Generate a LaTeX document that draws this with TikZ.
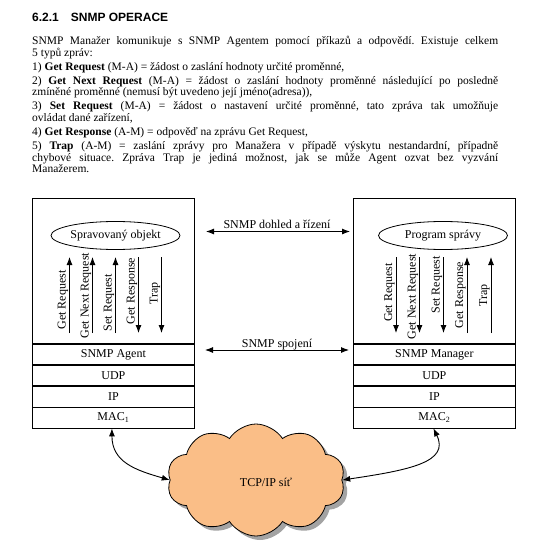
\documentclass[tikz,border=0pt]{standalone}
\usepackage{fontspec}
\setmainfont{Liberation Serif}
\newfontfamily\headfont{Liberation Sans}
\usetikzlibrary{shapes.geometric,shapes.symbols,arrows.meta,shadows}
\definecolor{cloudfill}{RGB}{250,190,135}
\frenchspacing
\tikzset{
  bodyline/.style={anchor=base west, inner sep=0pt, font=\fontsize{11.5}{13}\selectfont},
  box/.style={draw, line width=0.8pt, inner sep=0pt},
  row/.style={box, minimum width=162pt, minimum height=20.3pt, font=\fontsize{12}{14}\selectfont},
  obj/.style={draw, ellipse, line width=0.8pt, minimum width=129pt, minimum height=28pt, inner sep=0pt, font=\fontsize{12}{14}\selectfont},
  arr/.style={line width=0.9pt, -{Latex[length=8pt,width=6pt]}},
  darr/.style={line width=0.9pt, {Latex[length=8pt,width=6pt]}-{Latex[length=8pt,width=6pt]}},
  vlab/.style={rotate=90, anchor=base, inner sep=0pt, font=\fontsize{12}{14}\selectfont},
  hlab/.style={anchor=base, inner sep=0pt, font=\fontsize{12}{14}\selectfont},
}
\newcommand{\jl}[1]{\makebox[466pt][s]{#1}}
\begin{document}
\begin{tikzpicture}[x=1pt,y=-1pt]
\useasboundingbox (0,0) rectangle (556,559);
% heading and text
\node[anchor=base west, inner sep=0pt, font=\headfont\bfseries\fontsize{12}{14}\selectfont] (head) at (32,22) {6.2.1\hspace{12pt}SNMP OPERACE};
\node[bodyline] (t1) at (32,45) {\jl{SNMP Manažer komunikuje s SNMP Agentem pomocí příkazů a odpovědí. Existuje celkem}};
\node[bodyline] (t2) at (32,56.5) {5 typů zpráv:};
\node[bodyline] (t3) at (32,70.5) {1) \textbf{Get Request} (M-A) = žádost o zaslání hodnoty určité proměnné,};
\node[bodyline] (t4) at (32,84.5) {\jl{2) \textbf{Get Next Request} (M-A) = žádost o zaslání hodnoty proměnné následující po posledně}};
\node[bodyline] (t5) at (32,96) {zmíněné proměnné (nemusí být uvedeno její jméno(adresa)),};
\node[bodyline] (t6) at (32,110) {\jl{3) \textbf{Set Request} (M-A) = žádost o nastavení určité proměnné, tato zpráva tak umožňuje}};
\node[bodyline] (t7) at (32,121.5) {ovládat dané zařízení,};
\node[bodyline] (t8) at (32,135.5) {4) \textbf{Get Response} (A-M) = odpověď na zprávu Get Request,};
\node[bodyline] (t9) at (32,149.5) {\jl{5) \textbf{Trap} (A-M) = zaslání zprávy pro Manažera v případě výskytu nestandardní, případně}};
\node[bodyline] (t10) at (32,161) {\jl{chybové situace. Zpráva Trap je jediná možnost, jak se může Agent ozvat bez vyzvání}};
\node[bodyline] (t11) at (32,172.5) {Manažerem.};

% agent stack
\node[row, anchor=north west] (agent) at (32,344) {SNMP Agent};
\node[row, anchor=north] (udp1) at (agent.south) {UDP};
\node[row, anchor=north] (ip1) at (udp1.south) {IP};
\node[row, anchor=north] (mac1) at (ip1.south) {MAC\textsubscript{1}};
\node[box, minimum width=162pt, minimum height=145pt, anchor=south west] (abox) at (agent.north west) {};
\node[obj] (sobj) at (115.5,235.5) {Spravovaný objekt};

% manager stack
\node[row, anchor=north west] (manager) at (353,344) {SNMP Manager};
\node[row, anchor=north] (udp2) at (manager.south) {UDP};
\node[row, anchor=north] (ip2) at (udp2.south) {IP};
\node[row, anchor=north] (mac2) at (ip2.south) {MAC\textsubscript{2}};
\node[box, minimum width=162pt, minimum height=145pt, anchor=south west] (mbox) at (manager.north west) {};
\node[obj] (prog) at (443,235.5) {Program správy};

% left vertical arrows
\foreach \i/\x in {1/69.5,2/92.5,3/115.5,4/138.5,5/161.5}{
  \coordinate (la\i t) at (\x,257);
  \coordinate (la\i b) at (\x,333);
}
\draw[arr] (la1b) -- (la1t);
\draw[arr] (la2b) -- (la2t);
\draw[arr] (la3b) -- (la3t);
\draw[arr] (la4t) -- (la4b);
\draw[arr] (la5t) -- (la5b);
\node[vlab] (lg1) at (65.5,300) {Get Request};
\node[vlab] (lg2) at (88.5,295.5) {Get Next Request};
\node[vlab] (lg3) at (111.5,302.5) {Set Request};
\node[vlab] (lg4) at (134.5,291) {Get Response};
\node[vlab] (lg5) at (157.5,293.5) {Trap};

% right vertical arrows
\foreach \i/\x in {1/396,2/419.5,3/443.5,4/467,5/491}{
  \coordinate (ra\i t) at (\x,257);
  \coordinate (ra\i b) at (\x,333);
}
\draw[arr] (ra1t) -- (ra1b);
\draw[arr] (ra2t) -- (ra2b);
\draw[arr] (ra3t) -- (ra3b);
\draw[arr] (ra4b) -- (ra4t);
\draw[arr] (ra5b) -- (ra5t);
\node[vlab] (rg1) at (392,292.5) {Get Request};
\node[vlab] (rg2) at (415.5,296.5) {Get Next Request};
\node[vlab] (rg3) at (439.5,285) {Set Request};
\node[vlab] (rg4) at (463,295) {Get Response};
\node[vlab] (rg5) at (487,295.5) {Trap};

% horizontal arrows
\coordinate (h1l) at (206,231.5);
\coordinate (h1r) at (350,231.5);
\draw[darr] (h1l) -- (h1r);
\node[hlab] (h1t) at (277,228) {SNMP dohled a řízení};
\coordinate (h2l) at (205,350);
\coordinate (h2r) at (349,350);
\draw[darr] (h2l) -- (h2r);
\node[hlab] (h2t) at (277,347.5) {SNMP spojení};

% cloud
\node[cloud, cloud puffs=10, cloud puff arc=115, aspect=1.55, draw, line width=0.8pt,
      fill=cloudfill, minimum width=178pt, minimum height=112pt, inner sep=0pt,
      drop shadow={shadow xshift=4pt, shadow yshift=-4pt, fill=black!45, opacity=0.8}] (net) at (256,480) {};
\node[hlab, anchor=center] (netlab) at (266,482) {TCP/IP síť};

% connections to the network
\draw[darr] ([xshift=-1.5pt]mac1.south) .. controls (112,462) and (135,470) .. (net.west);
\draw[darr] ([xshift=-1pt]mac2.south) .. controls (450,462) and (410,470) .. (net.east);
\end{tikzpicture}
\end{document}
